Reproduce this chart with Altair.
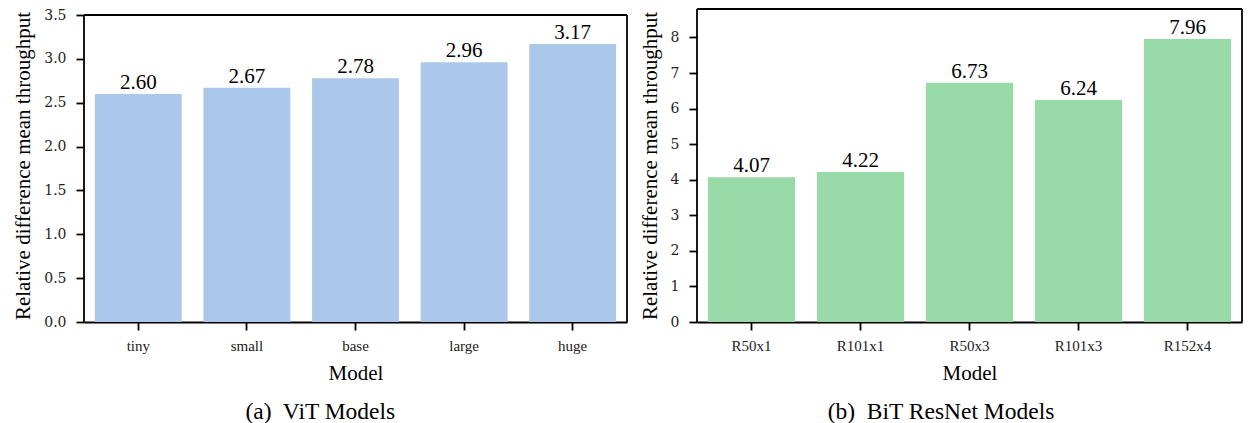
import altair as alt
import pandas as pd

vit_models = ["tiny", "small", "base", "large", "huge"]
vit_values = [2.60, 2.67, 2.78, 2.96, 3.17]
bit_models = ["R50x1", "R101x1", "R50x3", "R101x3", "R152x4"]
bit_values = [4.07, 4.22, 6.73, 6.24, 7.96]
vit_ticks = [0.0, 0.5, 1.0, 1.5, 2.0, 2.5, 3.0, 3.5]
bit_ticks = [0, 1, 2, 3, 4, 5, 6, 7, 8]

SERIF = "Liberation Serif"
TICKFONT = "DejaVu Serif"
H = 313
LW = 1.8
YTITLE = "Relative difference mean throughput"


def panel(models, values, color, ticks, top, ymax, fmt, caption, width):
    df = pd.DataFrame({"Model": models, "value": values})
    yscale = alt.Scale(domain=[0, ymax], nice=False, zero=True)
    yaxis = alt.Axis(values=ticks, format=fmt, grid=False, domain=False,
                     labelFont=TICKFONT, labelFontSize=14, labelColor="#222",
                     labelOverlap=False,
                     titleFont=SERIF, titleFontSize=21, titleFontWeight="normal",
                     titleColor="black", tickColor="black", tickWidth=LW,
                     tickSize=8, labelPadding=10, titlePadding=10)
    x = alt.X("Model:N", sort=models, title="Model",
              scale=alt.Scale(paddingInner=0.2, paddingOuter=0.1),
              axis=alt.Axis(labelAngle=0, labelFont=SERIF, labelFontSize=15,
                            titleFont=SERIF, titleFontSize=21, titleFontWeight="normal",
                            labelColor="#222", titleColor="black",
                            domainColor="black", domainWidth=LW, tickColor="black",
                            tickWidth=LW, tickSize=8, labelPadding=8, titlePadding=9))
    y = alt.Y("value:Q", title=YTITLE, scale=yscale, axis=yaxis)
    base = alt.Chart(df)
    bars = base.mark_bar(color=color).encode(x=x, y=y)
    text = base.mark_text(baseline="alphabetic", dy=-5, font=SERIF, fontSize=21,
                          color="black").encode(
        x=x, y=y, text=alt.Text("value:Q", format=".2f"))
    fr = pd.DataFrame({"lo": [0], "hi": [top]})
    fb = alt.Chart(fr)
    left = fb.mark_rule(color="black", strokeWidth=LW).encode(
        x=alt.value(0), y=alt.Y("lo:Q", title=YTITLE, scale=yscale, axis=yaxis), y2="hi:Q")
    right = fb.mark_rule(color="black", strokeWidth=LW).encode(
        x=alt.value("width"), y=alt.Y("lo:Q", title=YTITLE, scale=yscale, axis=yaxis),
        y2="hi:Q")
    topr = fb.mark_rule(color="black", strokeWidth=LW).encode(
        x=alt.value(0), x2=alt.value("width"),
        y=alt.Y("hi:Q", title=YTITLE, scale=yscale, axis=yaxis))
    return alt.layer(bars, text, left, right, topr).properties(
        width=width, height=H,
        title=alt.TitleParams(caption, orient="bottom", frame="bounds", anchor="middle",
                              font=SERIF, fontSize=23.5, fontWeight="normal",
                              color="black", offset=17))


p1 = panel(vit_models, vit_values, "#abc8ea", vit_ticks, 3.5, 3.5 * H / 307, ".1f",
           "(a)\u00a0 ViT Models", 543)
p2 = panel(bit_models, bit_values, "#98d9a8", bit_ticks, 8.8, 8.8, "d",
           "(b)\u00a0 BiT ResNet Models", 545)

chart = alt.hconcat(p1, p2, spacing=11).properties(
    padding={"left": 12, "top": 8, "right": 8, "bottom": 0}
).configure_view(stroke=None)

chart.save("out.html", embed_options={"renderer": "svg", "actions": False})
